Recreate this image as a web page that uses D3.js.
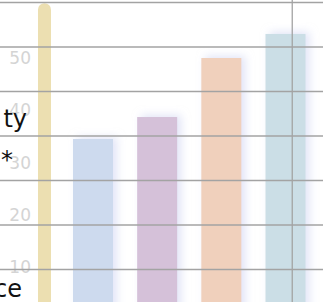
<!DOCTYPE html>
<html>
<head>
<meta charset="utf-8">
<script src="https://cdn.jsdelivr.net/npm/d3@7"></script>
<style>
  html, body { margin: 0; padding: 0; background: #fff; overflow: hidden; }
  svg { display: block; }
</style>
</head>
<body>
<svg id="chart" width="323" height="302"></svg>
<script>
// ---- data ----
const categories = ["A", "B", "C", "D"];
const values = [34.5, 38.7, 50, 54.6];
const barColors = ["#cddaee", "#d5c1d9", "#f0d0bc", "#cbdee6"];
const markerPos = [0.244];
const markerValues = [60.5];
const markerColors = ["#ecdfb1"];
const tickValues = [10, 20, 30, 40, 50];
const gridValues = [0, 1, 2, 3, 4, 5, 6];
const vLinePos = [4.105];
const sideLabels = ["ty", "*", "ce"];
const sideLabelPos = [36.8, 29.0, 4.3];
const sideLabelEnd = [27, 13, 22];

// ---- layout ----
const W = 323, H = 302;
const svg = d3.select("#chart");

const x = d3.scaleLinear().domain([1, 4]).range([93, 285.5]);
const barW = 40;
const y = d3.scaleLinear().domain([10, 50]).range([267, 58]);
const yGrid = d3.scaleLinear().domain([0, 6]).range([269.5, 2.5]);

const defs = svg.append("defs");
const f = defs.append("filter").attr("id", "glow")
  .attr("x", "-50%").attr("y", "-50%").attr("width", "200%").attr("height", "200%");
f.append("feDropShadow").attr("dx", 4).attr("dy", -2).attr("stdDeviation", 4)
  .attr("flood-color", "#c9cff0").attr("flood-opacity", 0.55);

// tick labels (light)
svg.append("g").selectAll("text").data(tickValues).join("text")
  .attr("x", 31).attr("y", d => y(d))
  .attr("dy", "0.36em")
  .attr("text-anchor", "end")
  .attr("font-family", "DejaVu Sans, sans-serif")
  .attr("font-size", 17)
  .attr("fill", "#d4d4d4")
  .text(d => d);

// side labels (cut-off category labels)
svg.append("g").selectAll("text").data(sideLabels).join("text")
  .attr("x", (d, i) => sideLabelEnd[i]).attr("y", (d, i) => y(sideLabelPos[i]))
  .attr("text-anchor", "end")
  .attr("font-family", "DejaVu Sans, sans-serif")
  .attr("font-size", 24)
  .attr("fill", "#111")
  .text(d => d);

// marker bar (thin rounded)
svg.append("g").selectAll("rect").data(markerValues).join("rect")
  .attr("x", (d, i) => x(markerPos[i]) - 6.5)
  .attr("width", 13)
  .attr("y", d => y(d))
  .attr("height", d => H + 20 - y(d))
  .attr("rx", 6.5)
  .attr("fill", (d, i) => markerColors[i]);

// bars
svg.append("g").selectAll("rect").data(values).join("rect")
  .attr("x", (d, i) => x(i + 1) - barW / 2)
  .attr("width", barW)
  .attr("y", d => y(d))
  .attr("height", d => H + 20 - y(d))
  .attr("fill", (d, i) => barColors[i])
  .attr("filter", "url(#glow)");

// gridlines
svg.append("g").selectAll("line").data(gridValues).join("line")
  .attr("x1", 0).attr("x2", W)
  .attr("y1", d => yGrid(d)).attr("y2", d => yGrid(d))
  .attr("stroke", "#a3a3a3").attr("stroke-width", 1.3);

// vertical line
svg.append("g").selectAll("line").data(vLinePos).join("line")
  .attr("x1", d => x(d)).attr("x2", d => x(d))
  .attr("y1", 0).attr("y2", H)
  .attr("stroke", "#a3a3a3").attr("stroke-width", 1.3);
</script>
</body>
</html>
